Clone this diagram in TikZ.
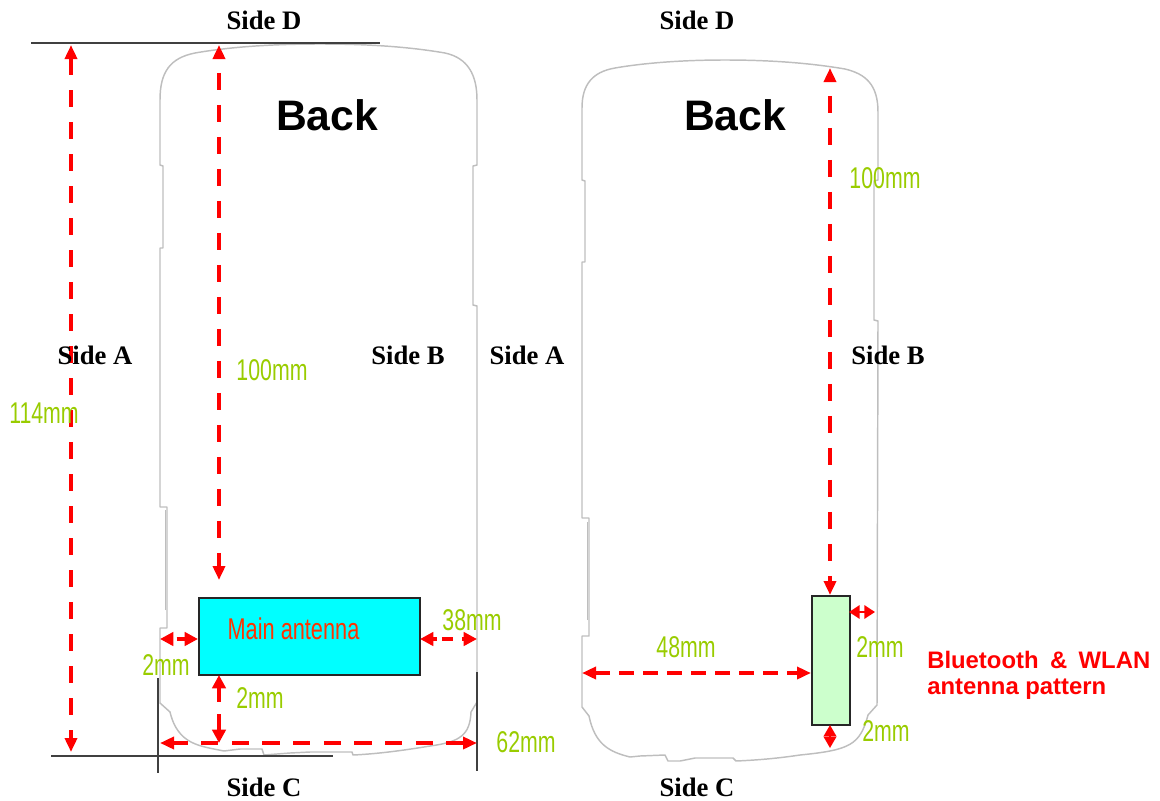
\documentclass[tikz,border=0pt]{standalone}
\usepackage{fontspec}
\setmainfont{Liberation Serif}
\newfontfamily\arialf{Liberation Sans}
\newfontfamily\narrowf[FakeStretch=0.71]{Liberation Sans}
\newfontfamily\narrowm[FakeStretch=0.725]{Liberation Sans}
\usetikzlibrary{arrows.meta}
\definecolor{dimgreen}{HTML}{99CC00}
\definecolor{outl}{HTML}{BEBEBE}
\definecolor{antcyan}{HTML}{00FFFF}
\definecolor{antgreen}{HTML}{CCFFCC}
\definecolor{antred}{HTML}{FF3300}
\tikzset{
  sidelabel/.style={font=\fontsize{20}{20}\selectfont\bfseries,inner sep=0pt},
  backlabel/.style={font=\arialf\fontsize{32}{32}\selectfont\bfseries,inner sep=0pt},
  dimlabel/.style={font=\narrowf\fontsize{22.5}{22.5}\selectfont,text=dimgreen,inner sep=0pt},
  bigtip/.tip={Triangle[length=10.5pt,width=9pt,fill=red]},
  smalltip/.tip={Triangle[length=10pt,width=10pt,fill=red]},
  dimarrow/.style={draw=red,line width=2.6pt,dash pattern=on 13pt off 11pt,{bigtip}-{bigtip}},
  dimsmall/.style={draw=red,line width=2.6pt,{smalltip}-{smalltip}},
  phone/.style={draw=outl,line width=1.1pt,line join=round},
  refline/.style={draw=black!75,line width=1pt},
  antennabox/.style={draw=black!85,line width=1.25pt,inner sep=0pt,anchor=north west},
}
\begin{document}
\begin{tikzpicture}[x=0.75pt,y=-0.75pt]
\useasboundingbox (0,0) rectangle (1160,800);
% left phone
\draw[phone] (160,100) .. controls (160,72) and (170,58) .. (195,53)
  .. controls (235,46) and (280,44) .. (320,44)
  .. controls (370,44) and (410,47) .. (445,53)
  .. controls (468,58) and (477,75) .. (477,100)
  -- (477,165) -- (473,166) -- (473,305) -- (477,306) -- (477,702)
  -- (471,712) .. controls (470,735) and (460,742) .. (430,746)
  .. controls (400,751) and (375,754) .. (353,755) -- (352,752) -- (310,752) -- (290,753)
  -- (264,755) -- (262,749) -- (240,749) -- (224,751)
  .. controls (200,746) and (178,745) .. (170,712)
  -- (160,703) -- (160,628) -- (167,628) -- (167,507) -- (160,507) -- (160,248)
  -- (163,248) -- (163,166) -- (160,165) -- cycle;
\draw[phone,line width=.7pt] (165,610) -- (165,510);
% right phone
\draw[phone] (582,108) .. controls (582,85) and (592,72) .. (615,68)
  .. controls (650,62) and (690,60) .. (725,60)
  .. controls (770,60) and (810,63) .. (845,69)
  .. controls (866,74) and (878,85) .. (878,112)
  -- (878,180) -- (874,181) -- (874,320) -- (878,321) -- (877,705)
  -- (868,715) .. controls (860,745) and (850,750) .. (800,755)
  .. controls (780,758) and (760,760) .. (736,761)
  -- (733,758) -- (695,758) -- (680,761) -- (668,761) -- (665,755) -- (640,756) -- (630,757)
  .. controls (610,752) and (595,745) .. (589,716)
  -- (582,707) -- (582,636) -- (589,636) -- (589,518) -- (582,518) -- (582,262)
  -- (585,262) -- (585,181) -- (582,180) -- cycle;
\draw[phone,line width=.7pt] (587,620) -- (587,522);
% reference lines
\coordinate (topL) at (31,43); \coordinate (topR) at (380,43);
\coordinate (botL) at (51,756); \coordinate (botR) at (333,756);
\coordinate (vlT) at (158,678); \coordinate (vlB) at (158,773);
\coordinate (vrT) at (477,672); \coordinate (vrB) at (477,771);
\draw[refline] (topL) -- (topR);
\draw[refline] (botL) -- (botR);
\draw[refline] (vlT) -- (vlB);
\draw[refline] (vrT) -- (vrB);
% antennas
\node[antennabox,fill=antcyan,minimum width=165.75pt,minimum height=57.75pt] (main) at (198,597) {};
\node[font=\narrowm\fontsize{22.5}{22.5}\selectfont,text=antred,inner sep=0pt] (mainlbl) at (293.5,629) {Main antenna};
\node[antennabox,fill=antgreen,minimum width=28.5pt,minimum height=96.75pt] (bt) at (811,595) {};
% dimension anchors
\coordinate (a114t) at (71,45); \coordinate (a114b) at (71,752);
\coordinate (a100t) at (219,45); \coordinate (a100b) at (219,580);
\coordinate (aLl) at (160,639); \coordinate (aLr) at (198,639);
\coordinate (aRl) at (420,639); \coordinate (aRr) at (477,639);
\coordinate (aBt) at (219,675); \coordinate (aBb) at (219,743);
\coordinate (a62l) at (160,743); \coordinate (a62r) at (477,743);
\coordinate (b100t) at (830,68); \coordinate (b100b) at (830,595);
\coordinate (b2l) at (849,612); \coordinate (b2r) at (875,612);
\coordinate (b48l) at (582,673); \coordinate (b48r) at (811,673);
\coordinate (b2t) at (830,725); \coordinate (b2b) at (830,748);
\draw[dimarrow] (a114t) -- (a114b);
\draw[dimarrow,dash phase=13pt] (a100t) -- (a100b);
\draw[dimsmall,dash pattern=on 0pt off 3pt on 30pt] (aLl) -- (aLr);
\draw[dimsmall,dash pattern=on 3pt off 4pt on 8pt off 7pt on 30pt] (aRl) -- (aRr);
\draw[dimsmall,dash pattern=on 11pt off 9pt on 30pt] (aBt) -- (aBb);
\draw[dimarrow,dash phase=2pt,dash pattern=on 13pt off 10pt] (a62l) -- (a62r);
\draw[dimarrow,dash phase=13pt] (b100t) -- (b100b);
\draw[draw=red,line width=1.6pt,{Triangle[length=8pt,width=10pt,fill=red]}-{Triangle[length=8pt,width=10pt,fill=red]}] (b2l) -- (b2r);
\draw[dimarrow,dash pattern=on 11pt off 7pt] (b48l) -- (b48r);
\draw[draw=red,line width=1.5pt,{Triangle[length=8.6pt,width=9.5pt,fill=red]}-{Triangle[length=8.6pt,width=9.5pt,fill=red]}] (b2t) -- (b2b);
% labels
\node[sidelabel] (sdl) at (264,20) {Side D};
\node[sidelabel] (sdr) at (697,20) {Side D};
\node[sidelabel] (scl) at (264,787) {Side C};
\node[sidelabel] (scr) at (697,787) {Side C};
\node[sidelabel] (sal) at (95,355) {Side A};
\node[sidelabel] (sar) at (527,355) {Side A};
\node[sidelabel] (sbl) at (408,355) {Side B};
\node[sidelabel] (sbr) at (888,355) {Side B};
\node[backlabel] (bkl) at (327,115) {Back};
\node[backlabel] (bkr) at (735,115) {Back};
\node[dimlabel] (d1) at (272,370) {100mm};
\node[dimlabel] (d2) at (44,413) {114mm};
\node[dimlabel] (d3) at (166,665) {2mm};
\node[dimlabel] (d4) at (260,698) {2mm};
\node[dimlabel] (d5) at (472,620) {38mm};
\node[dimlabel] (d6) at (526,742) {62mm};
\node[dimlabel] (d7) at (885,178) {100mm};
\node[dimlabel] (d8) at (686,647) {48mm};
\node[dimlabel] (d9) at (880,647) {2mm};
\node[dimlabel] (d10) at (886,731) {2mm};
\node[anchor=north west,inner sep=0pt,text=red,font=\arialf\fontsize{17.9}{19.5}\selectfont\bfseries,align=left] (btl) at (927,651)
  {\hbox to 167.25pt{Bluetooth\hfill\&\hfill WLAN}\\antenna pattern};
\end{tikzpicture}
\end{document}
